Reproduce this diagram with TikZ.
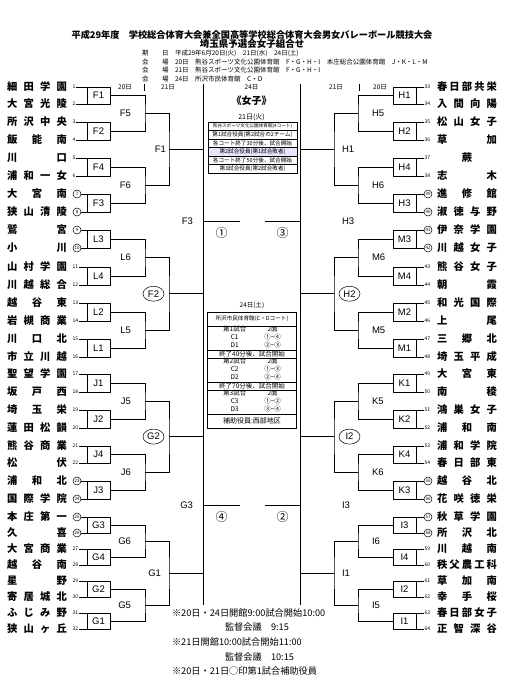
\documentclass[tikz,border=0pt]{standalone}
\usepackage{fontspec}
\setmainfont{Noto Sans CJK JP}
\newfontfamily\latnfont{Liberation Sans}
\usetikzlibrary{positioning, shapes.geometric, calc}
\newcommand\teamname[1]{\makebox[60pt][s]{#1}}

\begin{document}
\begin{tikzpicture}[x=1pt, y=-1pt, line width=0.6pt,
    every node/.style={inner sep=0pt, outer sep=0pt},
    team/.style={anchor=west, font=\bfseries\fontsize{10.3}{10}\selectfont},
    num/.style={anchor=west, inner sep=0.6pt, font=\fontsize{5}{5}\selectfont},
    cnum/.style={circle, draw, line width=0.5pt, minimum size=8pt, font=\fontsize{4.5}{5}\selectfont},
    mbox/.style={draw, minimum width=23pt, font=\latnfont\fontsize{9.5}{10}\selectfont},
    lab/.style={font=\latnfont\fontsize{9.5}{10}\selectfont},
    elab/.style={lab, ellipse, draw, line width=0.5pt, minimum width=21pt, minimum height=15pt},
    hdr/.style={font=\fontsize{6.5}{7}\selectfont},
    info/.style={anchor=west, font=\fontsize{6.5}{7}\selectfont},
    cell/.style={draw, line width=0.5pt, minimum width=89pt, minimum height=8.5pt, font=\fontsize{5.6}{6}\selectfont},
    cmark/.style={font=\fontsize{12}{12}\selectfont},
    ftr/.style={anchor=west, font=\fontsize{9.2}{10}\selectfont}]
\useasboundingbox (0,0) rectangle (522,698);

% title
\node[font=\bfseries\fontsize{9.2}{10}\selectfont] (ttl) at (252,35) {平成29年度　学校総合体育大会兼全国高等学校総合体育大会男女バレーボール競技大会};
\node[font=\bfseries\fontsize{9.5}{10}\selectfont] (sub) at (252,44) {埼玉県予選会女子組合せ};
\node[info] (i1a) at (142,53) {期};
\node[info] (i1b) at (162,53) {日};
\node[info] (i1c) at (175,53) {平成29年6月20日(火)　21日(水)　24日(土)};
\node[info] (i2a) at (142,62) {会};
\node[info] (i2b) at (162,62) {場};
\node[info] (i2c) at (175,62) {20日　熊谷スポーツ文化公園体育館　F・G・H・I　本庄総合公園体育館　J・K・L・M};
\node[info] (i3a) at (142,70) {会};
\node[info] (i3b) at (162,70) {場};
\node[info] (i3c) at (175,70) {21日　熊谷スポーツ文化公園体育館　F・G・H・I};
\node[info] (i4a) at (142,79) {会};
\node[info] (i4b) at (162,79) {場};
\node[info] (i4c) at (175,79) {24日　所沢市民体育館　C・D};

% day headers
\node[hdr] (h1) at (125,87) {20日};
\node[hdr] (h2) at (168,87) {21日};
\node[hdr] (h3) at (251.5,87) {24日};
\node[hdr] (h4) at (336,87) {21日};
\node[hdr] (h5) at (380,87) {20日};
\draw (144,84) -- (144,91);
\draw (359,84) -- (359,91);
\draw (203,84) -- (203,605);
\draw (300,84) -- (300,605);

% first round, left
\node[mbox, minimum height=17pt] (F1a) at (98.5,95.5) {F1};
\node[mbox, minimum height=18pt] (F2a) at (98.5,131) {F2};
\node[mbox, minimum height=18pt] (F4a) at (98.5,167) {F4};
\node[mbox, minimum height=18pt] (F3a) at (98.5,203) {F3};
\node[mbox, minimum height=18pt] (L3a) at (98.5,239) {L3};
\node[mbox, minimum height=18pt] (L4a) at (98.5,276) {L4};
\node[mbox, minimum height=18pt] (L2a) at (98.5,312) {L2};
\node[mbox, minimum height=18pt] (L1a) at (98.5,348) {L1};
\node[mbox, minimum height=18pt] (J1a) at (98.5,383) {J1};
\node[mbox, minimum height=18pt] (J2a) at (98.5,419) {J2};
\node[mbox, minimum height=17pt] (J4a) at (98.5,454.5) {J4};
\node[mbox, minimum height=18pt] (J3a) at (98.5,490) {J3};
\node[mbox, minimum height=16pt] (G3a) at (98.5,525) {G3};
\node[mbox, minimum height=16pt] (G4a) at (98.5,557) {G4};
\node[mbox, minimum height=16pt] (G2a) at (98.5,589) {G2};
\node[mbox, minimum height=16pt] (G1a) at (98.5,621) {G1};

% first round, right
\node[mbox, minimum height=17pt] (H1a) at (404.5,95.5) {H1};
\node[mbox, minimum height=18pt] (H2a) at (404.5,131) {H2};
\node[mbox, minimum height=18pt] (H4a) at (404.5,167) {H4};
\node[mbox, minimum height=18pt] (H3a) at (404.5,203) {H3};
\node[mbox, minimum height=18pt] (M3a) at (404.5,239) {M3};
\node[mbox, minimum height=18pt] (M4a) at (404.5,276) {M4};
\node[mbox, minimum height=18pt] (M2a) at (404.5,312) {M2};
\node[mbox, minimum height=18pt] (M1a) at (404.5,348) {M1};
\node[mbox, minimum height=18pt] (K1a) at (404.5,383) {K1};
\node[mbox, minimum height=18pt] (K2a) at (404.5,419) {K2};
\node[mbox, minimum height=17pt] (K4a) at (404.5,454.5) {K4};
\node[mbox, minimum height=18pt] (K3a) at (404.5,490) {K3};
\node[mbox, minimum height=16pt] (I3a) at (404.5,525) {I3};
\node[mbox, minimum height=16pt] (I4a) at (404.5,557) {I4};
\node[mbox, minimum height=16pt] (I2a) at (404.5,589) {I2};
\node[mbox, minimum height=16pt] (I1a) at (404.5,621) {I1};

% teams, left
\foreach \i/\y/\tn/\b in {1/87/{細 田 学 園}/F1a, 2/104/{大 宮 光 陵}/F1a, 3/122/{所 沢 中 央}/F2a, 4/140/{飯 能 南}/F2a,
    5/158/{川 口}/F4a, 6/176/{浦 和 一 女}/F4a, 11/267/{山 村 学 園}/L4a, 12/285/{川 越 総 合}/L4a,
    13/303/{越 谷 東}/L2a, 14/321/{岩 槻 商 業}/L2a, 15/339/{川 口 北}/L1a, 16/357/{市 立 川 越}/L1a,
    17/374/{聖 望 学 園}/J1a, 18/392/{坂 戸 西}/J1a, 19/410/{埼 玉 栄}/J2a, 20/428/{蓮 田 松 韻}/J2a,
    21/446/{熊 谷 商 業}/J4a, 22/463/{松 伏}/J4a, 27/549/{大 宮 商 業}/G4a, 28/565/{越 谷 南}/G4a,
    29/581/{星 野}/G2a, 30/597/{寄 居 城 北}/G2a, 31/613/{ふ じ み 野}/G1a, 32/629/{狭 山 ヶ 丘}/G1a}{
  \node[team] (t\i) at (7,\y) {\teamname{\tn}};
  \node[num] (n\i) at (72,\y) {\i};
  \draw (n\i.east) -- (n\i.east -| \b.east);
}
\foreach \i/\y/\tn/\b in {7/194/{大 宮 南}/F3a, 8/212/{狭 山 清 陵}/F3a, 9/230/{鷲 宮}/L3a, 10/248/{小 川}/L3a,
    23/481/{浦 和 北}/J3a, 24/499/{国 際 学 院}/J3a, 25/517/{本 庄 第 一}/G3a, 26/533/{久 喜}/G3a}{
  \node[team] (t\i) at (7,\y) {\teamname{\tn}};
  \node[cnum] (n\i) at (77,\y) {\i};
  \draw (n\i.east) -- (n\i.east -| \b.east);
}

% teams, right
\foreach \i/\y/\tn/\b in {33/87/{春 日 部 共 栄}/H1a, 34/104/{入 間 向 陽}/H1a, 35/122/{松 山 女 子}/H2a, 36/140/{草 加}/H2a,
    37/158/{\hfil 蕨\hfil}/H4a, 38/176/{志 木}/H4a, 43/267/{熊 谷 女 子}/M4a, 44/285/{朝 霞}/M4a,
    45/303/{和 光 国 際}/M2a, 46/321/{上 尾}/M2a, 47/339/{三 郷 北}/M1a, 48/357/{埼 玉 平 成}/M1a,
    49/374/{大 宮 東}/K1a, 50/392/{南 稜}/K1a, 51/410/{鴻 巣 女 子}/K2a, 52/428/{浦 和 南}/K2a,
    53/446/{浦 和 学 院}/K4a, 54/463/{春 日 部 東}/K4a, 59/549/{川 越 南}/I4a, 60/565/{秩 父 農 工 科}/I4a,
    61/581/{草 加 南}/I2a, 62/597/{幸 手 桜}/I2a, 63/613/{春 日 部 女 子}/I1a, 64/629/{正 智 深 谷}/I1a}{
  \node[team] (t\i) at (437,\y) {\teamname{\tn}};
  \node[num] (n\i) at (424,\y) {\i};
  \draw (n\i.west) -- (n\i.west -| \b.west);
}
\foreach \i/\y/\tn/\b in {39/194/{進 修 館}/H3a, 40/212/{淑 徳 与 野}/H3a, 41/230/{伊 奈 学 園}/M3a, 42/248/{川 越 女 子}/M3a,
    55/481/{越 谷 北}/K3a, 56/499/{花 咲 徳 栄}/K3a, 57/517/{秋 草 学 園}/I3a, 58/533/{所 沢 北}/I3a}{
  \node[team] (t\i) at (437,\y) {\teamname{\tn}};
  \node[cnum] (n\i) at (428,\y) {\i};
  \draw (n\i.west) -- (n\i.west -| \b.west);
}

% second round (20日)
\coordinate (F5) at ($(F1a.east)!0.5!(F2a.east)+(35,0)$);
\coordinate (F6) at ($(F4a.east)!0.5!(F3a.east)+(35,0)$);
\coordinate (L6) at ($(L3a.east)!0.5!(L4a.east)+(35,0)$);
\coordinate (L5) at ($(L2a.east)!0.5!(L1a.east)+(35,0)$);
\coordinate (J5) at ($(J1a.east)!0.5!(J2a.east)+(35,0)$);
\coordinate (J6) at ($(J4a.east)!0.5!(J3a.east)+(35,0)$);
\coordinate (G6) at ($(G3a.east)!0.5!(G4a.east)+(35,0)$);
\coordinate (G5) at ($(G2a.east)!0.5!(G1a.east)+(35,0)$);
\draw (F1a.east) -| (F5) |- (F2a.east);
\draw (F4a.east) -| (F6) |- (F3a.east);
\draw (L3a.east) -| (L6) |- (L4a.east);
\draw (L2a.east) -| (L5) |- (L1a.east);
\draw (J1a.east) -| (J5) |- (J2a.east);
\draw (J4a.east) -| (J6) |- (J3a.east);
\draw (G3a.east) -| (G6) |- (G4a.east);
\draw (G2a.east) -| (G5) |- (G1a.east);
\node[lab, left=14pt of F5] (F5l) {F5};
\node[lab, left=14pt of F6] (F6l) {F6};
\node[lab, left=14pt of L6] (L6l) {L6};
\node[lab, left=14pt of L5] (L5l) {L5};
\node[lab, left=14pt of J5] (J5l) {J5};
\node[lab, left=14pt of J6] (J6l) {J6};
\node[lab, left=14pt of G6] (G6l) {G6};
\node[lab, left=14pt of G5] (G5l) {G5};

\coordinate (H5) at ($(H1a.west)!0.5!(H2a.west)+(-35,0)$);
\coordinate (H6) at ($(H4a.west)!0.5!(H3a.west)+(-35,0)$);
\coordinate (M6) at ($(M3a.west)!0.5!(M4a.west)+(-35,0)$);
\coordinate (M5) at ($(M2a.west)!0.5!(M1a.west)+(-35,0)$);
\coordinate (K5) at ($(K1a.west)!0.5!(K2a.west)+(-35,0)$);
\coordinate (K6) at ($(K4a.west)!0.5!(K3a.west)+(-35,0)$);
\coordinate (I6) at ($(I3a.west)!0.5!(I4a.west)+(-35,0)$);
\coordinate (I5) at ($(I2a.west)!0.5!(I1a.west)+(-35,0)$);
\draw (H1a.west) -| (H5) |- (H2a.west);
\draw (H4a.west) -| (H6) |- (H3a.west);
\draw (M3a.west) -| (M6) |- (M4a.west);
\draw (M2a.west) -| (M5) |- (M1a.west);
\draw (K1a.west) -| (K5) |- (K2a.west);
\draw (K4a.west) -| (K6) |- (K3a.west);
\draw (I3a.west) -| (I6) |- (I4a.west);
\draw (I2a.west) -| (I5) |- (I1a.west);
\node[lab, right=14pt of H5] (H5l) {H5};
\node[lab, right=14pt of H6] (H6l) {H6};
\node[lab, right=14pt of M6] (M6l) {M6};
\node[lab, right=14pt of M5] (M5l) {M5};
\node[lab, right=14pt of K5] (K5l) {K5};
\node[lab, right=14pt of K6] (K6l) {K6};
\node[lab, right=14pt of I6] (I6l) {I6};
\node[lab, right=14pt of I5] (I5l) {I5};

% third round (21日)
\coordinate (F1c) at ($(F5)!0.5!(F6)+(24,0)$);
\coordinate (F2c) at ($(L6)!0.5!(L5)+(24,0)$);
\coordinate (G2c) at ($(J5)!0.5!(J6)+(24,0)$);
\coordinate (G1c) at ($(G6)!0.5!(G5)+(24,0)$);
\draw (F5) -| (F1c) |- (F6);
\draw (L6) -| (F2c) |- (L5);
\draw (J5) -| (G2c) |- (J6);
\draw (G6) -| (G1c) |- (G5);
\node[lab, left=3pt of F1c] (F1l) {F1};
\node[elab, left=5pt of F2c] (F2l) {F2};
\node[elab, left=5pt of G2c] (G2l) {G2};
\node[lab, left=8pt of G1c] (G1l) {G1};

\coordinate (H1c) at ($(H5)!0.5!(H6)+(-24,0)$);
\coordinate (H2c) at ($(M6)!0.5!(M5)+(-24,0)$);
\coordinate (I2c) at ($(K5)!0.5!(K6)+(-24,0)$);
\coordinate (I1c) at ($(I6)!0.5!(I5)+(-24,0)$);
\draw (H5) -| (H1c) |- (H6);
\draw (M6) -| (H2c) |- (M5);
\draw (K5) -| (I2c) |- (K6);
\draw (I6) -| (I1c) |- (I5);
\node[lab, right=8pt of H1c] (H1l) {H1};
\node[elab, right=5pt of H2c] (H2l) {H2};
\node[elab, right=5pt of I2c] (I2l) {I2};
\node[lab, right=8pt of I1c] (I1l) {I1};

% fourth round
\coordinate (F3d) at ($(F1c)!0.5!(F2c)+(34,0)$);
\coordinate (G3d) at ($(G2c)!0.5!(G1c)+(34,0)$);
\coordinate (H3d) at ($(H1c)!0.5!(H2c)+(-34,0)$);
\coordinate (I3d) at ($(I2c)!0.5!(I1c)+(-34,0)$);
\draw (F1c) -| (F3d) |- (F2c);
\draw (G2c) -| (G3d) |- (G1c);
\draw (H1c) -| (H3d) |- (H2c);
\draw (I2c) -| (I3d) |- (I1c);
\node[lab, left=10pt of F3d] (F3l) {F3};
\node[lab, left=10pt of G3d] (G3l) {G3};
\node[lab, right=42pt of H3d] (H3l) {H3};
\node[lab, right=42pt of I3d] (I3l) {I3};

% into the final pool
\coordinate (F3e) at ($(F3d)+(37,0)$);
\coordinate (G3e) at ($(G3d)+(37,0)$);
\coordinate (H3e) at ($(H3d)+(-35,0)$);
\coordinate (I3e) at ($(I3d)+(-35,0)$);
\draw (F3d) -- (F3e);
\draw (G3d) -- (G3e);
\draw (H3d) -- (H3e);
\draw (I3d) -- (I3e);
\node[cmark] (m1) at ($(F3d)!0.5!(F3e)+(0,12)$) {①};
\node[cmark] (m3) at ($(H3d)!0.5!(H3e)+(0,12)$) {③};
\node[cmark] (m4) at ($(G3d)!0.5!(G3e)+(0,12)$) {④};
\node[cmark] (m2) at ($(I3d)!0.5!(I3e)+(0,12)$) {②};

% 24日 column
\node[font=\bfseries\fontsize{10}{10}\selectfont] (joshi) at (251.5,101) {《女子》};
\node[font=\fontsize{7}{7}\selectfont] (d21) at (251.5,117) {21日(火)};
\node[cell, font=\fontsize{4.6}{5}\selectfont] (k1) at (252.5,126.25) {熊谷スポーツ文化公園体育館(4コート)};
\node[cell, below=0pt of k1] (k2) {第1試合役員(第2試合の2チーム)};
\node[cell, below=0pt of k2] (k3) {各コート終了30分後、試合開始};
\node[cell, fill=blue!10, below=0pt of k3] (k4) {第2試合役員(第1試合敗者)};
\node[cell, below=0pt of k4] (k5) {各コート終了50分後、試合開始};
\node[cell, below=0pt of k5] (k6) {第3試合役員(第2試合敗者)};

\node[cell, minimum height=14pt] (s0) at (252,319) {所沢市民体育館(C・Dコート)};
\node[font=\fontsize{6.5}{7}\selectfont, above=3pt of s0] (d24) {24日(土)};
\node[cell, minimum height=24pt, font=\fontsize{6.5}{8}\selectfont, below=0pt of s0] (s1) {\begin{tabular}{@{}c@{\hspace{18pt}}c@{}}第1試合&2面\\C1&①−④\\D1&②−③\end{tabular}};
\node[cell, font=\fontsize{6.5}{7}\selectfont, minimum height=8pt, below=0pt of s1] (s2) {終了40分後、試合開始};
\node[cell, minimum height=24pt, font=\fontsize{6.5}{8}\selectfont, below=0pt of s2] (s3) {\begin{tabular}{@{}c@{\hspace{18pt}}c@{}}第2試合&2面\\C2&①−③\\D2&②−④\end{tabular}};
\node[cell, font=\fontsize{6.5}{7}\selectfont, minimum height=8pt, below=0pt of s3] (s4) {終了70分後、試合開始};
\node[cell, minimum height=24pt, font=\fontsize{6.5}{8}\selectfont, below=0pt of s4] (s5) {\begin{tabular}{@{}c@{\hspace{18pt}}c@{}}第3試合&2面\\C3&①−②\\D3&③−④\end{tabular}};
\node[cell, minimum height=14pt, font=\fontsize{7}{8}\selectfont, below=0pt of s5] (s6) {補助役員:西部地区};

% notes
\node[ftr] (f1) at (172,613) {※20日・24日開館9:00試合開始10:00};
\node[ftr] (f2) at (225,627) {監督会議　9:15};
\node[ftr] (f3) at (172,642) {※21日開館10:00試合開始11:00};
\node[ftr] (f4) at (225,657) {監督会議　10:15};
\node[ftr] (f5) at (172,671) {※20日・21日○印第1試合補助役員};
\end{tikzpicture}
\end{document}
